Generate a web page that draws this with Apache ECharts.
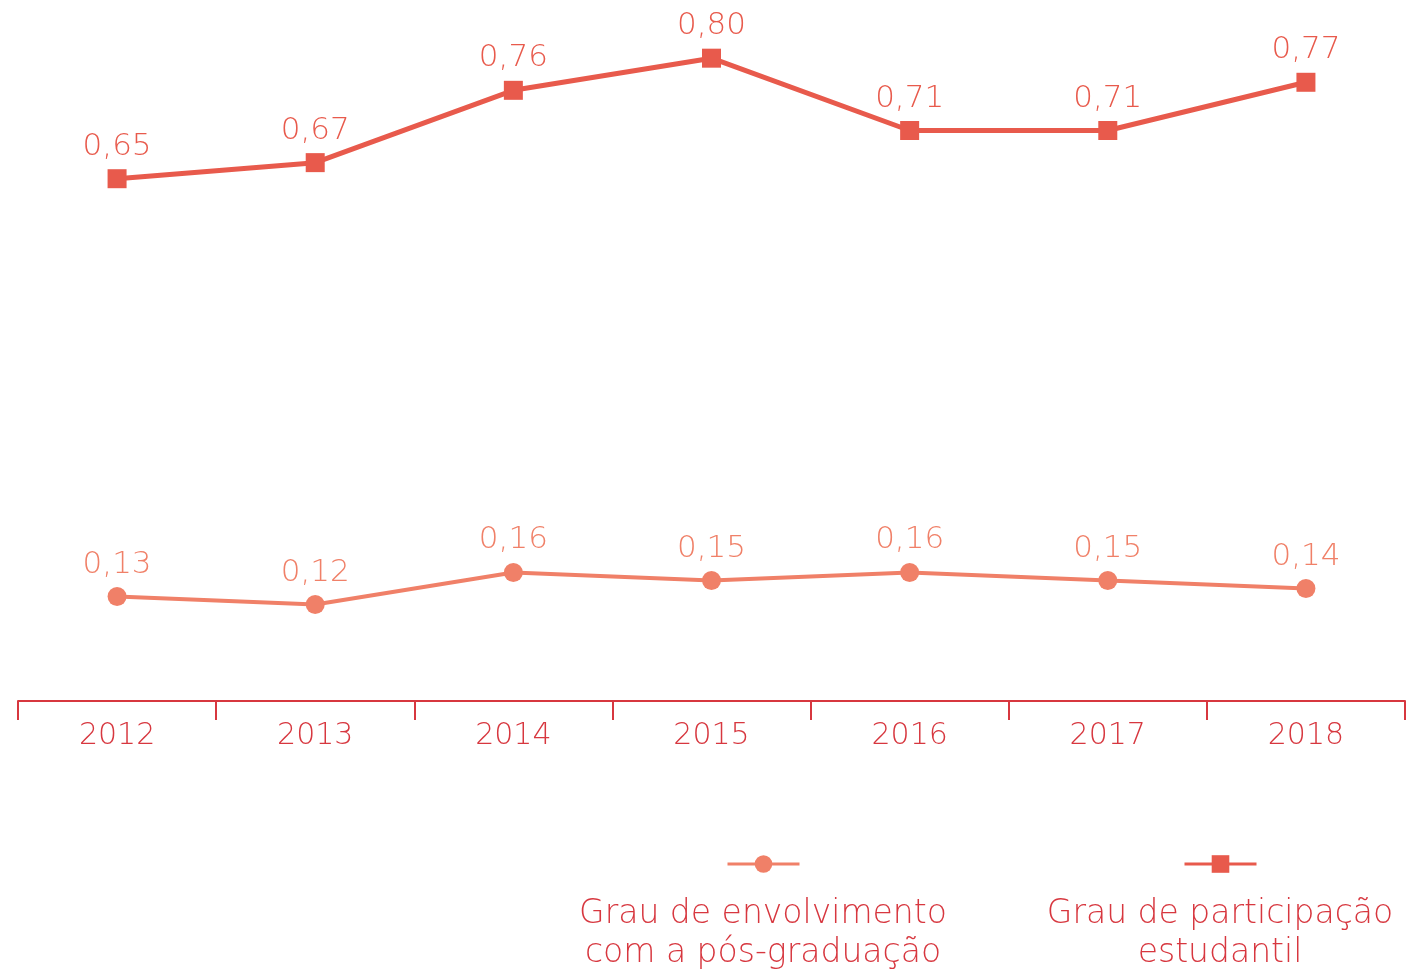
<!DOCTYPE html>
<html>
<head>
<meta charset="utf-8">
<script src="https://cdn.jsdelivr.net/npm/echarts@6/dist/echarts.min.js"></script>
<style>
  html, body { margin: 0; padding: 0; background: #fff; }
  #main { width: 1406px; height: 973px; }
</style>
</head>
<body>
<div id="main"></div>
<script>
var years = ['2012', '2013', '2014', '2015', '2016', '2017', '2018'];
var envolvimento = [0.13, 0.12, 0.16, 0.15, 0.16, 0.15, 0.14];
var participacao = [0.65, 0.67, 0.76, 0.80, 0.71, 0.71, 0.77];
var seriesNames = ['Grau de envolvimento\ncom a pós-graduação', 'Grau de participação\nestudantil'];

var font = '"DejaVu Sans", "Open Sans", sans-serif';
var axisColor = '#D7373F';
var lowColor = '#F08068';
var highColor = '#E85A4C';

var chartDom = document.getElementById('main');
var myChart = echarts.init(chartDom);
var option;

function fmt(p) {
  return p.value.toFixed(2).replace('.', ',');
}

option = {
  animation: false,
  grid: { left: 18, right: 1, top: 18, bottom: 272 },
  legend: [
    {
      data: [seriesNames[0]],
      left: 721, top: 848,
      itemWidth: 72, itemHeight: 22,
      lineStyle: { width: 3 },
      formatter: function () { return ''; },
      selectedMode: false
    },
    {
      data: [seriesNames[1]],
      left: 1178, top: 848,
      itemWidth: 72, itemHeight: 22,
      lineStyle: { width: 3 },
      formatter: function () { return ''; },
      selectedMode: false
    }
  ],
  graphic: [
    {
      type: 'text', x: 763, y: 895,
      style: {
        text: seriesNames[0],
        fill: axisColor, font: '200 33px ' + font,
        align: 'center', lineHeight: 39
      }
    },
    {
      type: 'text', x: 1220, y: 895,
      style: {
        text: seriesNames[1],
        fill: axisColor, font: '200 33px ' + font,
        align: 'center', lineHeight: 39
      }
    }
  ],
  xAxis: {
    type: 'category',
    data: years,
    boundaryGap: true,
    axisLine: { lineStyle: { color: axisColor, width: 2 } },
    axisTick: { show: true, length: 19, lineStyle: { color: axisColor, width: 2 } },
    axisLabel: { color: axisColor, fontSize: 30, fontFamily: font, fontWeight: 200, margin: 20 }
  },
  yAxis: {
    type: 'value',
    min: 0,
    max: 0.85,
    show: false
  },
  series: [
    {
      name: seriesNames[0],
      type: 'line',
      data: envolvimento,
      symbol: 'circle',
      symbolSize: 19,
      lineStyle: { color: lowColor, width: 4 },
      itemStyle: { color: lowColor },
      label: {
        show: true, position: 'top', distance: 7,
        color: lowColor, fontSize: 31, fontFamily: font, fontWeight: 200,
        formatter: fmt
      }
    },
    {
      name: seriesNames[1],
      type: 'line',
      data: participacao,
      symbol: 'rect',
      symbolSize: 19,
      lineStyle: { color: highColor, width: 5 },
      itemStyle: { color: highColor },
      label: {
        show: true, position: 'top', distance: 7,
        color: highColor, fontSize: 31, fontFamily: font, fontWeight: 200,
        formatter: fmt
      }
    }
  ]
};

option && myChart.setOption(option);
</script>
</body>
</html>
